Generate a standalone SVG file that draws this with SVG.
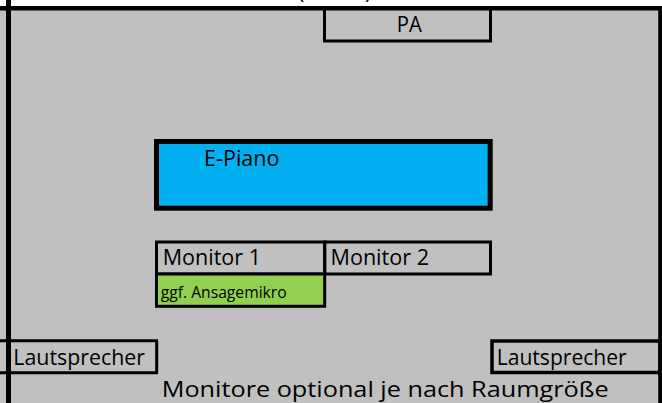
<svg xmlns="http://www.w3.org/2000/svg" width="662" height="403" viewBox="0 0 662 403">
  <style>
    .t { font-family: "Open Sans", "Noto Sans", "Liberation Sans", sans-serif; font-size: 21.5px; fill: #000; }
    .s { font-size: 16px; }
    .box { fill: none; stroke: #000; stroke-width: 3; }
    .line { stroke: #000; fill: none; }
  </style>
  <rect x="0" y="0" width="662" height="403" fill="#FFFFFF"/>
  <rect x="0" y="8" width="662" height="395" fill="#C0C0C0"/>
  <g id="title-fragment">
    <text class="t" x="298" y="-1.5">(</text>
    <text class="t" x="365" y="-1.5">)</text>
  </g>
  <g id="borders">
    <line class="line" x1="0" y1="8.2" x2="662" y2="8.2" stroke-width="4.5"/>
    <line class="line" x1="8.5" y1="0" x2="8.5" y2="403" stroke-width="5"/>
    <line class="line" x1="660.2" y1="6" x2="660.2" y2="403" stroke-width="4"/>
  </g>
  <g id="pa">
    <rect class="box" x="324.5" y="8" width="166" height="33"/>
    <text class="t" x="396.7" y="32.3" textLength="25" lengthAdjust="spacingAndGlyphs">PA</text>
  </g>
  <g id="epiano">
    <rect x="156.5" y="141.5" width="333.7" height="66.7" fill="#00B0F0" stroke="#000" stroke-width="5"/>
    <text class="t" x="204" y="166" textLength="75.5" lengthAdjust="spacingAndGlyphs">E-Piano</text>
  </g>
  <g id="monitor1">
    <rect class="box" x="156.5" y="242" width="168.2" height="32"/>
    <text class="t" x="162.7" y="265" textLength="98.3" lengthAdjust="spacingAndGlyphs">Monitor 1</text>
  </g>
  <g id="monitor2">
    <rect class="box" x="324.7" y="242" width="165.8" height="32"/>
    <text class="t" x="330.5" y="265" textLength="98.5" lengthAdjust="spacingAndGlyphs">Monitor 2</text>
  </g>
  <g id="ansagemikro">
    <rect x="156.5" y="274" width="168.2" height="32.3" fill="#92D050" stroke="#000" stroke-width="3"/>
    <text class="t s" x="160.7" y="298.3" textLength="126" lengthAdjust="spacingAndGlyphs">ggf. Ansagemikro</text>
  </g>
  <g id="lautsprecher-links">
    <line class="line" x1="0" y1="340.8" x2="158" y2="340.8" stroke-width="3"/>
    <line class="line" x1="0" y1="372.8" x2="158" y2="372.8" stroke-width="3"/>
    <line class="line" x1="156.7" y1="340.8" x2="156.7" y2="372.8" stroke-width="3"/>
    <text class="t" x="13.3" y="365" textLength="131.7" lengthAdjust="spacingAndGlyphs">Lautsprecher</text>
  </g>
  <g id="lautsprecher-rechts">
    <rect x="492" y="341" width="168" height="31.5" fill="none" stroke="#000" stroke-width="3.5"/>
    <text class="t" x="496.7" y="365" textLength="130" lengthAdjust="spacingAndGlyphs">Lautsprecher</text>
  </g>
  <g id="hinweis">
    <text class="t" x="161.7" y="396.7" textLength="447" lengthAdjust="spacingAndGlyphs">Monitore optional je nach Raumgröße</text>
  </g>
</svg>
